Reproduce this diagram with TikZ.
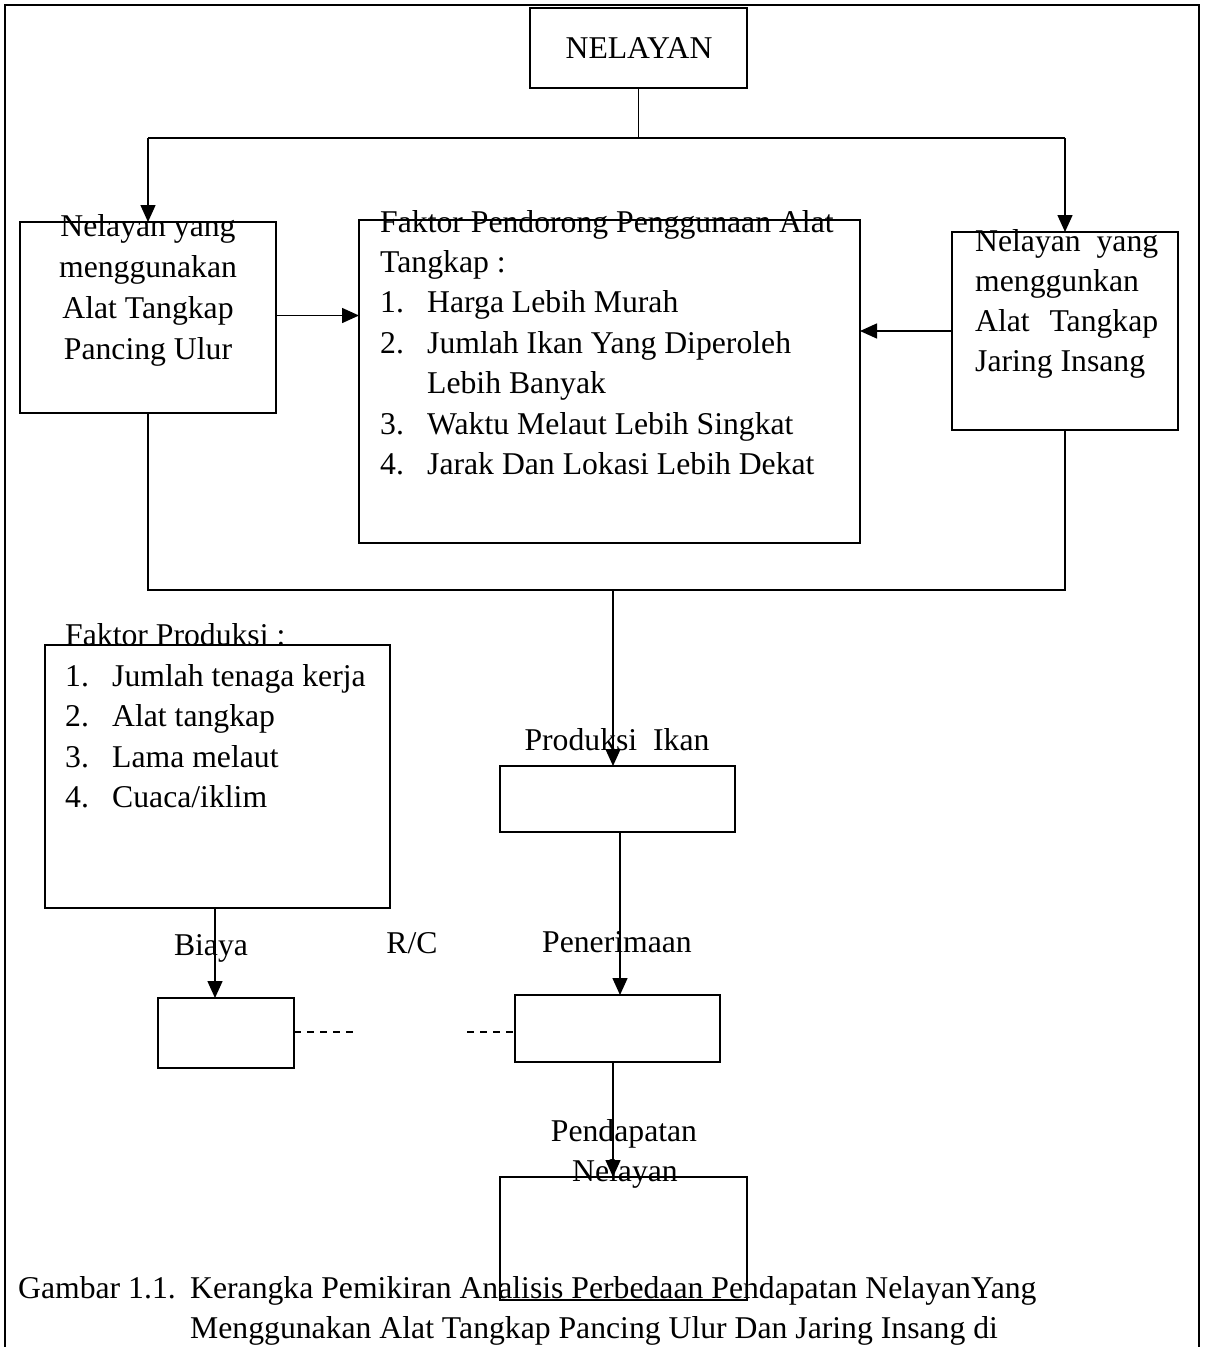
\documentclass[tikz,border=0pt]{standalone}
\usepackage{fontspec}
\setmainfont{Liberation Serif}
\usetikzlibrary{arrows.meta,calc}
\begin{document}
\begin{tikzpicture}[x=1pt,y=-1pt,
  box/.style={draw, line width=2.2pt, inner sep=0pt, outer sep=0pt},
  conn/.style={line width=1.5pt},
  arr/.style={conn, -{Triangle[length=17pt,width=15pt]}},
  txt/.style={inner sep=0pt, anchor=base west, font=\fontsize{31.7}{40.5}\selectfont},
  ctxt/.style={inner sep=0pt, anchor=base, font=\fontsize{31.7}{40.5}\selectfont}]
\useasboundingbox (0,0) rectangle (1205,1347);
% frame
\draw[line width=1.5pt] (5,1347) -- (5,5) -- (1199,5) -- (1199,1347);

% boxes
\node[box, minimum width=217pt, minimum height=80pt] (nel) at (638.5,48) {};
\node[box, minimum width=256pt, minimum height=191pt] (lft) at (148,317.5) {};
\node[box, minimum width=501pt, minimum height=323pt] (mid) at (609.5,381.5) {};
\node[box, minimum width=226pt, minimum height=198pt] (rgt) at (1065,331) {};
\node[box, minimum width=345pt, minimum height=263pt] (fp) at (217.5,776.5) {};
\node[box, minimum width=235pt, minimum height=66pt] (prod) at (617.5,799) {};
\node[box, minimum width=136pt, minimum height=70pt] (biaya) at (226,1033) {};
\node[box, minimum width=205pt, minimum height=67pt] (pen) at (617.5,1028.5) {};
\node[box, minimum width=247pt, minimum height=123pt] (pend) at (623.5,1238.5) {};

% texts
\node[ctxt] (tnel) at (639,58) {NELAYAN};

\node[ctxt] (tl1) at (148,236) {Nelayan yang};
\node[ctxt] (tl2) at (148,277) {menggunakan};
\node[ctxt] (tl3) at (148,318) {Alat Tangkap};
\node[ctxt] (tl4) at (148,359) {Pancing Ulur};

\node[txt] (tm0) at (380,232) {Faktor Pendorong Penggunaan Alat};
\node[txt] (tm1) at (380,272) {Tangkap :};
\node[txt] (tm2n) at (380,312) {1.};
\node[txt] (tm2) at (427,312) {Harga Lebih Murah};
\node[txt] (tm3n) at (380,353) {2.};
\node[txt] (tm3) at (427,353) {Jumlah Ikan Yang Diperoleh};
\node[txt] (tm4) at (427,393) {Lebih Banyak};
\node[txt] (tm5n) at (380,434) {3.};
\node[txt] (tm5) at (427,434) {Waktu Melaut Lebih Singkat};
\node[txt] (tm6n) at (380,474) {4.};
\node[txt] (tm6) at (427,474) {Jarak Dan Lokasi Lebih Dekat};

\node[txt] (tr1) at (975,251) {\makebox[183pt][s]{Nelayan\hfill yang}};
\node[txt] (tr2) at (975,291) {menggunkan};
\node[txt] (tr3) at (975,331) {\makebox[183pt][s]{Alat\hfill Tangkap}};
\node[txt] (tr4) at (975,371) {Jaring Insang};

\node[txt] (tf0) at (65,645) {Faktor Produksi :};
\node[txt] (tf1n) at (65,686) {1.};
\node[txt] (tf1) at (112,686) {Jumlah tenaga kerja};
\node[txt] (tf2n) at (65,726) {2.};
\node[txt] (tf2) at (112,726) {Alat tangkap};
\node[txt] (tf3n) at (65,767) {3.};
\node[txt] (tf3) at (112,767) {Lama melaut};
\node[txt] (tf4n) at (65,807) {4.};
\node[txt] (tf4) at (112,807) {Cuaca/iklim};

\node[ctxt] (tprod) at (617,750) {Produksi\ \ Ikan};
\node[ctxt] (tbiaya) at (211,955) {Biaya};
\node[ctxt] (trc) at (412,953) {R/C};
\node[ctxt] (tpen) at (617,952) {Penerimaan};
\node[ctxt] (tpd1) at (624,1141) {Pendapatan};
\node[ctxt] (tpd2) at (625,1181) {Nelayan};

\node[txt] (cap0) at (18,1298) {Gambar 1.1.};
\node[txt] (cap1) at (190,1298) {Kerangka Pemikiran Analisis Perbedaan Pendapatan NelayanYang};
\node[txt] (cap2) at (190,1338) {Menggunakan Alat Tangkap Pancing Ulur Dan Jaring Insang di};

% connectors
\coordinate (j1) at (nel.south |- 0,138);
\coordinate (jL) at (lft.north |- 0,138);
\coordinate (jR) at (rgt.north |- 0,138);
\draw[conn] (nel.south) -- (j1);
\draw[conn] (jL) -- (jR);
\draw[arr] (jL) -- (lft.north);
\draw[arr] (jR) -- (rgt.north);
\draw[arr] ($(lft.east)+(0,-2)$) -- ($(lft.east -| mid.west)+(0,-2)$);
\draw[arr] (rgt.west) -- (rgt.west -| mid.east);

\coordinate (bL) at (lft.south |- 0,590);
\coordinate (bR) at (rgt.south |- 0,590);
\coordinate (bM) at (613,590);
\draw[conn] (lft.south) -- (bL) -- (bR) -- (rgt.south);
\draw[arr] (bM) -- (bM |- prod.north);

\draw[arr] ($(prod.south)+(2.5,0)$) -- ($(pen.north)+(2.5,0)$);
\coordinate (bx) at (215,908);
\draw[arr] (bx) -- (bx |- biaya.north);

\coordinate (d1) at (358,1032);
\coordinate (d2) at (467,1032);
\draw[conn, dash pattern=on 7pt off 6pt] (biaya.east |- d1) -- (d1);
\draw[conn, dash pattern=on 7pt off 6pt] (d2) -- (d2 -| pen.west);

\coordinate (p1) at (613,1062);
\draw[arr] (p1) -- (p1 |- pend.north);
\end{tikzpicture}
\end{document}
